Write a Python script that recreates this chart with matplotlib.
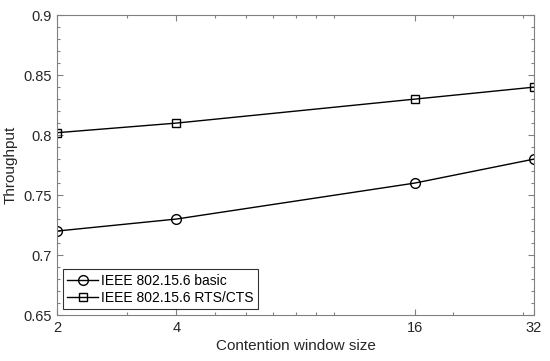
import numpy as np
import matplotlib.pyplot as plt
from matplotlib.ticker import FixedLocator, NullFormatter

plt.rcParams['font.family'] = ['Liberation Sans', 'DejaVu Sans']

# ==== data ====
cw = [2, 4, 16, 32]
thr_basic = [0.72, 0.73, 0.76, 0.78]
thr_rtscts = [0.802, 0.81, 0.83, 0.84]
xticks = [2, 4, 16, 32]
xminor = [3, 5, 6, 7, 8, 9, 10, 20, 30]
yticks = [0.65, 0.7, 0.75, 0.8, 0.85, 0.9]

axcol = '#808080'
txtcol = '#262626'

fig = plt.figure(figsize=(5.5, 3.61), dpi=100)
ax = fig.add_axes([0.1036, 0.1274, 0.8674, 0.8306])

ax.plot(cw, thr_basic, '-o', color='black', lw=1.0, ms=7, mfc='none', mew=1.0,
        label='IEEE 802.15.6 basic')
ax.plot(cw, thr_rtscts, '-s', color='black', lw=1.0, ms=6, mfc='none', mew=1.0,
        label='IEEE 802.15.6 RTS/CTS')

ax.set_xscale('log')
ax.set_xlim(2, 32)
ax.set_ylim(0.65, 0.9)
ax.xaxis.set_major_locator(FixedLocator(xticks))
ax.xaxis.set_minor_locator(FixedLocator(xminor))
ax.xaxis.set_minor_formatter(NullFormatter())
ax.set_xticklabels([str(v) for v in xticks])
ax.yaxis.set_major_locator(FixedLocator(yticks))
ax.yaxis.set_minor_locator(FixedLocator(np.arange(0.66, 0.9, 0.01)))
ax.set_yticklabels(['0.65', '0.7', '0.75', '0.8', '0.85', '0.9'])

ax.tick_params(which='both', direction='in', top=True, right=True,
               colors=axcol, labelcolor=txtcol, labelsize=10.5)
ax.tick_params(which='major', length=4, width=0.8, pad=4)
ax.tick_params(which='minor', length=2.5, width=0.8)
for s in ax.spines.values():
    s.set_color(axcol)
    s.set_linewidth(0.8)

ax.set_xlabel('Contention window size', fontsize=11, color=txtcol, labelpad=3)
ax.set_ylabel('Throughput', fontsize=11, color=txtcol)

leg = ax.legend(loc='lower left', fontsize=10, frameon=True, fancybox=False,
                edgecolor='black', handlelength=2.2, borderpad=0.35,
                labelspacing=0.2, handletextpad=0.2, borderaxespad=0.4)
leg.get_frame().set_linewidth(0.8)

fig.savefig('out.png', dpi=100)
